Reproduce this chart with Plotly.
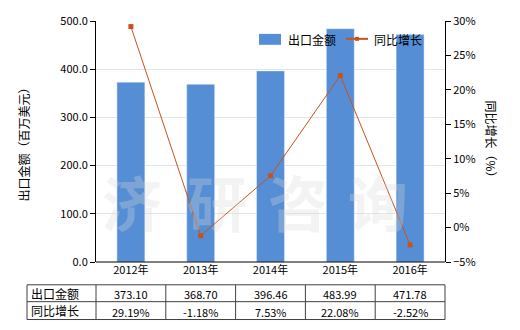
import plotly.graph_objects as go

categories = ["2012年", "2013年", "2014年", "2015年", "2016年"]
export_values = [373.10, 368.70, 396.46, 483.99, 471.78]
growth_values = [29.19, -1.18, 7.53, 22.08, -2.52]
export_labels = ["373.10", "368.70", "396.46", "483.99", "471.78"]
growth_labels = ["29.19%", "-1.18%", "7.53%", "22.08%", "-2.52%"]
row_names = ["出口金额", "同比增长"]

FONT = "Noto Sans CJK SC, sans-serif"
BAR = "#558ED5"
LINE = "#C8531A"

fig = go.Figure()
fig.add_trace(go.Bar(x=categories, y=export_values, name="出口金额",
                     marker_color=BAR, width=0.4, yaxis="y"))
fig.add_trace(go.Scatter(x=categories, y=growth_values, name="同比增长",
                         mode="lines+markers", yaxis="y2",
                         line=dict(color=LINE, width=1),
                         marker=dict(symbol="square", size=5, color=LINE)))

L, R, T, B = 96, 75, 19, 68
W, H = 520, 330
pw, ph = W - L - R, H - T - B

def px_y(y):
    return (H - B - y) / ph

def px_x(x):
    return (x - L) / pw

shapes = []
annotations = []
# table
rows_y = [px_y(285), px_y(302), px_y(320)]
left = px_x(27)
n = len(categories)
col_edges = [left] + [i / n for i in range(n + 1)]
for yy in rows_y:
    shapes.append(dict(type="line", xref="paper", yref="paper", x0=left, x1=1, y0=yy, y1=yy,
                       line=dict(color="#404040", width=1)))
for xx in col_edges:
    shapes.append(dict(type="line", xref="paper", yref="paper", x0=xx, x1=xx, y0=rows_y[0], y1=rows_y[2],
                       line=dict(color="#404040", width=1)))
for r, (name, labels) in enumerate(zip(row_names, [export_labels, growth_labels])):
    yc = (rows_y[r] + rows_y[r + 1]) / 2
    annotations.append(dict(xref="paper", yref="paper", x=left + 0.005, y=yc, text=name,
                            showarrow=False, xanchor="left", yanchor="middle",
                            font=dict(family=FONT, size=12, color="#000")))
    for i, lab in enumerate(labels):
        annotations.append(dict(xref="paper", yref="paper", x=(i + 0.5) / n, y=yc - 0.005, text=lab,
                                showarrow=False, xanchor="center", yanchor="middle",
                                font=dict(family=FONT, size=11, color="#000")))

# watermark
for ch, cx in zip("济研咨询", [132, 217, 298, 378]):
    annotations.append(dict(xref="paper", yref="paper", x=px_x(cx), y=px_y(200), text="<b>" + ch + "</b>",
                            xanchor="center", yanchor="middle",
                            showarrow=False, font=dict(family=FONT, size=60, color="rgba(215,215,215,0.3)")))

# manual legend
shapes.append(dict(type="rect", xref="paper", yref="paper", x0=px_x(259), x1=px_x(281),
                   y0=px_y(43), y1=px_y(32), fillcolor=BAR, line=dict(width=0)))
annotations.append(dict(xref="paper", yref="paper", x=px_x(286), y=px_y(37.5), text="出口金额",
                        xanchor="left", yanchor="middle", showarrow=False,
                        font=dict(family=FONT, size=12, color="#000")))
shapes.append(dict(type="line", xref="paper", yref="paper", x0=px_x(346), x1=px_x(368),
                   y0=px_y(37), y1=px_y(37), line=dict(color=LINE, width=2)))
shapes.append(dict(type="rect", xref="paper", yref="paper", x0=px_x(355), x1=px_x(359),
                   y0=px_y(39), y1=px_y(35), fillcolor=LINE, line=dict(width=0)))
annotations.append(dict(xref="paper", yref="paper", x=px_x(372), y=px_y(37.5), text="同比增长",
                        xanchor="left", yanchor="middle", showarrow=False,
                        font=dict(family=FONT, size=12, color="#000")))

# axis titles
annotations.append(dict(xref="paper", yref="paper", x=px_x(23), y=0.5, text="出口金额（百万美元）",
                        xanchor="center", yanchor="middle",
                        textangle=-90, showarrow=False, font=dict(family=FONT, size=12, color="#000")))
annotations.append(dict(xref="paper", yref="paper", x=px_x(491), y=0.5, text="同比增长（%）",
                        xanchor="center", yanchor="middle",
                        textangle=90, showarrow=False, font=dict(family=FONT, size=12, color="#000")))

fig.update_layout(
    width=W, height=H,
    margin=dict(l=L, r=R, t=T, b=B),
    paper_bgcolor="white", plot_bgcolor="white",
    font=dict(family=FONT, size=11, color="#000"),
    showlegend=False,
    xaxis=dict(showline=False, ticks="", tickfont=dict(size=11)),
    yaxis=dict(range=[0, 500], dtick=100, tickformat=".1f", showline=True, linecolor="#000",
               ticks="outside", ticklen=5, tickcolor="#000", showgrid=True, gridcolor="#E4E4E4",
               zeroline=False, tickfont=dict(size=11)),
    yaxis2=dict(range=[-5, 30], dtick=5, ticksuffix="%", overlaying="y", side="right",
                showline=True, linecolor="#000", ticks="outside", ticklen=5, tickcolor="#000",
                showgrid=False, zeroline=False, tickfont=dict(size=11)),
    shapes=shapes + [dict(type="line", xref="paper", yref="paper", x0=0, x1=1, y0=0, y1=0,
                          line=dict(color="#000", width=1))],
    annotations=annotations,
)

fig.write_html("out.html")
